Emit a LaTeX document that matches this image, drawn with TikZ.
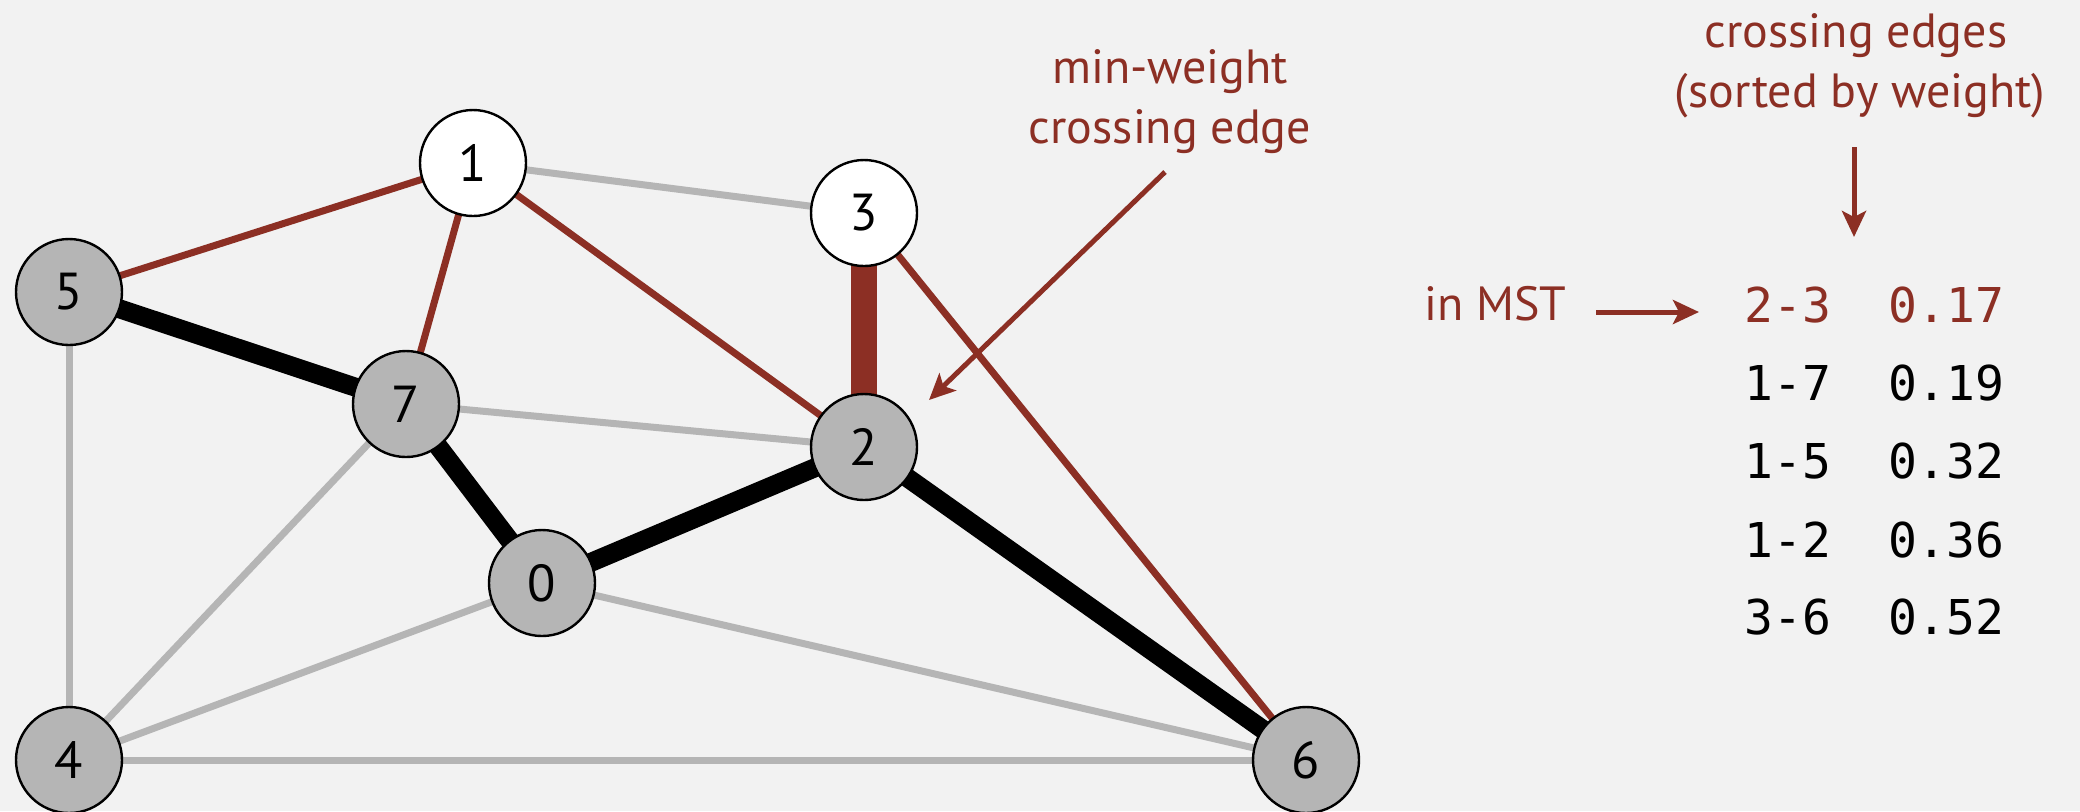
\documentclass[tikz,border=0pt]{standalone}
\usepackage{fontspec}
\setmainfont{PT Sans}
\newfontfamily\monof{DejaVu Sans Mono}
\usetikzlibrary{arrows.meta}
\pgfdeclarelayer{edgelayer}
\pgfsetlayers{edgelayer,main}
\definecolor{bg}{HTML}{F2F2F2}
\definecolor{myred}{HTML}{8C2F24}
\definecolor{edgegray}{HTML}{B5B5B5}
\definecolor{nodegray}{HTML}{B5B5B5}
\begin{document}
\begin{tikzpicture}[x=0.5pt,y=-0.5pt,
 vtx/.style={circle, draw=black, line width=1.2pt, minimum size=53pt, inner sep=0pt, fill=nodegray, font=\fontsize{26}{26}\selectfont},
 wvtx/.style={vtx, fill=white},
 gedge/.style={draw=edgegray, line width=3.5pt},
 mst/.style={draw=black, line width=9.5pt},
 redge/.style={draw=myred, line width=3.5pt},
 rthick/.style={draw=myred, line width=13pt},
 lbl/.style={text=myred, font=\fontsize{24}{24}\selectfont, inner sep=0pt, anchor=base},
 arr/.style={draw=myred, line width=2.5pt, -{Stealth[length=13pt,width=12pt,inset=3pt]}},
 row/.style={anchor=base west, font=\monof\fontsize{24}{24}\selectfont, inner sep=0pt}
]
\begin{pgfonlayer}{edgelayer}
\fill[bg] (0,0) rectangle (2080,811);
\end{pgfonlayer}
\useasboundingbox (0,0) rectangle (2080,811);

% vertices
\node[vtx]  (v0) at (542,583) {0};
\node[wvtx] (v1) at (473,163) {1};
\node[vtx]  (v2) at (864,447) {2};
\node[wvtx] (v3) at (864,213) {3};
\node[vtx]  (v4) at (69,760) {4};
\node[vtx]  (v5) at (69,292) {5};
\node[vtx]  (v6) at (1306,760) {6};
\node[vtx]  (v7) at (406,404) {7};

% edges (behind vertices)
\begin{pgfonlayer}{edgelayer}
\path[gedge] (v1.center) -- (v3.center);
\path[gedge] (v7.center) -- (v2.center);
\path[gedge] (v5.center) -- (v4.center);
\path[gedge] (v7.center) -- (v4.center);
\path[gedge] (v0.center) -- (v4.center);
\path[gedge] (v0.center) -- (v6.center);
\path[gedge] (v4.center) -- (v6.center);
\path[mst] (v5.center) -- (v7.center);
\path[mst] (v7.center) -- (v0.center);
\path[mst] (v0.center) -- (v2.center);
\path[mst] (v2.center) -- (v6.center);
\path[redge] (v1.center) -- (v5.center);
\path[redge] (v1.center) -- (v7.center);
\path[redge] (v1.center) -- (v2.center);
\path[redge] (v3.center) -- (v6.center);
\path[rthick] (v3.center) -- (v2.center);
\end{pgfonlayer}

% annotations
\node[lbl] (mw1) at (1170,83) {min-weight};
\node[lbl] (mw2) at (1170,143) {crossing edge};
\coordinate (mwstart) at (1165,172);
\coordinate (mwend) at (929,400);
\draw[arr] (mwstart) -- (mwend);

\node[lbl] (ce1) at (1856,47) {crossing edges};
\node[lbl] (ce2) at (1860,107) {(sorted by weight)};
\coordinate (dstart) at (1854,147);
\coordinate (dend) at (1854,237);
\draw[arr] (dstart) -- (dend);

\node[lbl, anchor=base west] (inmst) at (1424,320) {in MST};
\coordinate (istart) at (1596,312);
\coordinate (iend) at (1699,312);
\draw[arr] (istart) -- (iend);

\node[row, text=myred] (r1) at (1744,322) {2-3\ \ 0.17};
\node[row] (r2) at (1744,400) {1-7\ \ 0.19};
\node[row] (r3) at (1744,478) {1-5\ \ 0.32};
\node[row] (r4) at (1744,557) {1-2\ \ 0.36};
\node[row] (r5) at (1744,634) {3-6\ \ 0.52};
\end{tikzpicture}
\end{document}
